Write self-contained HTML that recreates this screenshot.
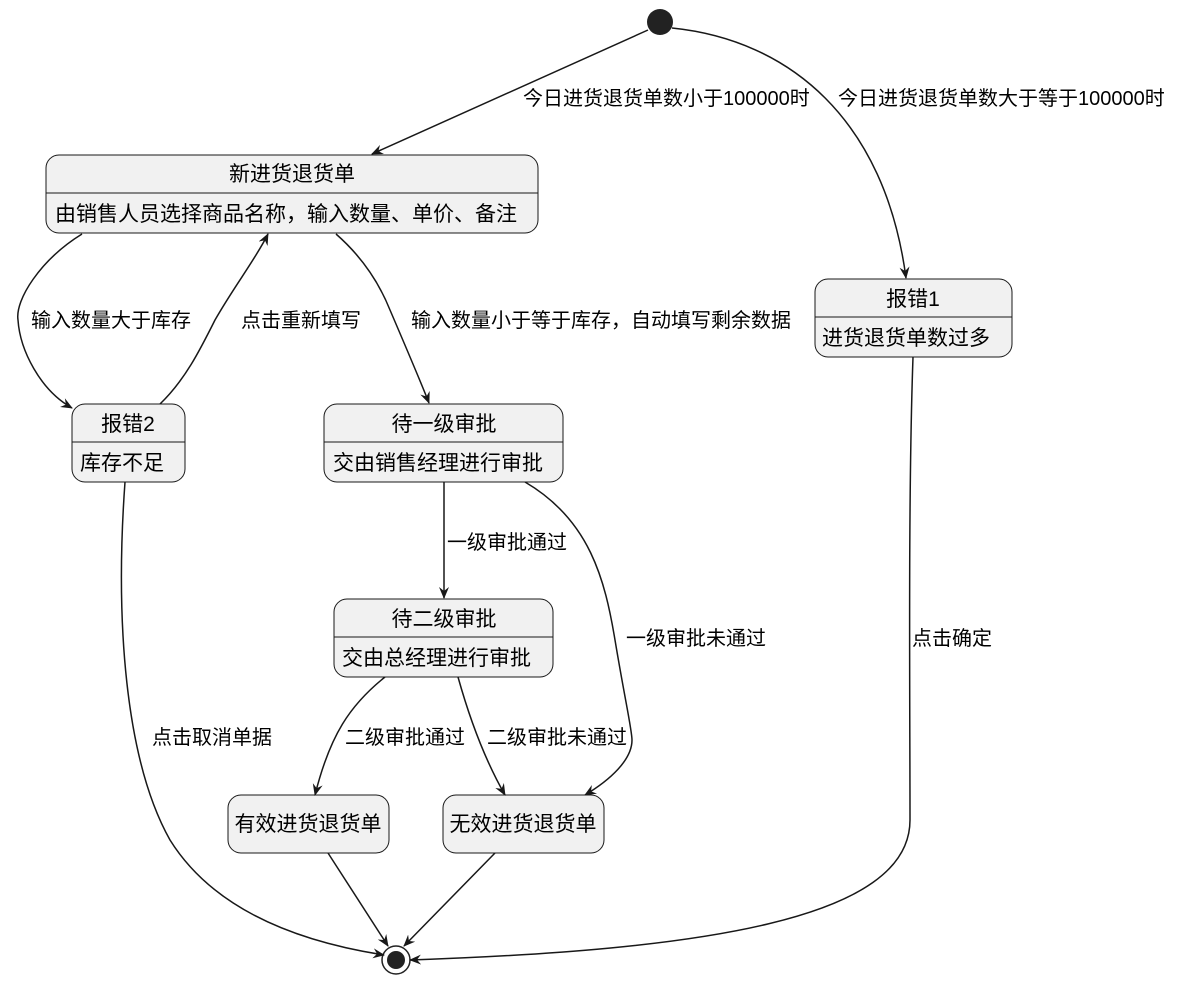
<!DOCTYPE html>
<html><head><meta charset="utf-8"><style>
html,body{margin:0;padding:0;background:#fff;}
svg{display:block;}
text{font-family:"Liberation Sans","Noto Sans CJK SC",sans-serif;fill:#000;}
.n{fill:#f1f1f1;stroke:#181818;stroke-width:1;}
.e{fill:none;stroke:#181818;stroke-width:1.5;}
.t{font-size:21px;}
.l{font-size:20px;}
</style></head><body>
<svg width="1189" height="984" viewBox="0 0 1189 984" xmlns="http://www.w3.org/2000/svg">
<defs>
<marker id="a" viewBox="0 0 12 10" refX="11" refY="5" markerWidth="12" markerHeight="10" markerUnits="userSpaceOnUse" orient="auto">
<path d="M0,0 L12,5 L0,10 L4,5 Z" fill="#181818"/>
</marker>
</defs>
<circle cx="660" cy="22" r="13" fill="#222"/>
<circle cx="396" cy="960" r="14" fill="#fff" stroke="#222" stroke-width="1.5"/>
<circle cx="396" cy="960" r="9" fill="#222"/>

<rect class="n" x="46" y="155" width="492" height="78" rx="13"/>
<line x1="46" y1="193" x2="538" y2="193" stroke="#181818"/>
<text class="t" x="292" y="181" text-anchor="middle">新进货退货单</text>
<text class="t" x="55" y="221">由销售人员选择商品名称，输入数量、单价、备注</text>

<rect class="n" x="815" y="279" width="197" height="78" rx="13"/>
<line x1="815" y1="317" x2="1012" y2="317" stroke="#181818"/>
<text class="t" x="913" y="306" text-anchor="middle">报错1</text>
<text class="t" x="822" y="345">进货退货单数过多</text>

<rect class="n" x="72" y="404" width="113" height="78" rx="13"/>
<line x1="72" y1="442" x2="185" y2="442" stroke="#181818"/>
<text class="t" x="128" y="431" text-anchor="middle">报错2</text>
<text class="t" x="80" y="470">库存不足</text>

<rect class="n" x="324" y="404" width="239" height="78" rx="13"/>
<line x1="324" y1="442" x2="563" y2="442" stroke="#181818"/>
<text class="t" x="444" y="431" text-anchor="middle">待一级审批</text>
<text class="t" x="333" y="470">交由销售经理进行审批</text>

<rect class="n" x="334" y="599" width="219" height="78" rx="13"/>
<line x1="334" y1="637" x2="553" y2="637" stroke="#181818"/>
<text class="t" x="444" y="626" text-anchor="middle">待二级审批</text>
<text class="t" x="342" y="665">交由总经理进行审批</text>

<rect class="n" x="228" y="795" width="161" height="58" rx="13"/>
<text class="t" x="308" y="831" text-anchor="middle">有效进货退货单</text>
<rect class="n" x="443" y="795" width="161" height="58" rx="13"/>
<text class="t" x="523" y="831" text-anchor="middle">无效进货退货单</text>

<path class="e" marker-end="url(#a)" d="M648,30 L372,154"/>
<text class="l" x="523" y="105">今日进货退货单数小于100000时</text>
<path class="e" marker-end="url(#a)" d="M672,28 C790,40 885,120 906,278"/>
<text class="l" x="838" y="105">今日进货退货单数大于等于100000时</text>

<path class="e" marker-end="url(#a)" d="M82,234 C40,260 15,300 18,320 C20,350 40,390 72,408"/>
<text class="l" x="31" y="327">输入数量大于库存</text>
<path class="e" marker-end="url(#a)" d="M160,404 C185,380 200,350 215,320 C235,285 255,260 268,234"/>
<text class="l" x="241" y="327">点击重新填写</text>
<path class="e" marker-end="url(#a)" d="M336,234 C360,255 378,280 390,310 C405,345 420,380 429,403"/>
<text class="l" x="411" y="327">输入数量小于等于库存，自动填写剩余数据</text>

<path class="e" marker-end="url(#a)" d="M444,482 L444,598"/>
<text class="l" x="447" y="549">一级审批通过</text>
<path class="e" marker-end="url(#a)" d="M525,482 C590,520 605,580 615,640 C625,700 632,730 632,740 C632,760 610,780 585,795"/>
<text class="l" x="626" y="645">一级审批未通过</text>

<path class="e" marker-end="url(#a)" d="M385,677 C350,705 330,735 315,795"/>
<text class="l" x="345" y="744">二级审批通过</text>
<path class="e" marker-end="url(#a)" d="M458,677 C470,720 485,760 505,795"/>
<text class="l" x="487" y="744">二级审批未通过</text>

<path class="e" marker-end="url(#a)" d="M125,482 C115,620 125,760 170,840 C220,920 320,945 384,955"/>
<text class="l" x="152" y="744">点击取消单据</text>

<path class="e" marker-end="url(#a)" d="M328,853 L388,946"/>
<path class="e" marker-end="url(#a)" d="M495,853 L404,946"/>

<path class="e" marker-end="url(#a)" d="M913,357 C908,500 910,700 910,820 C910,920 700,950 410,960"/>
<text class="l" x="912" y="645">点击确定</text>
</svg>
</body></html>
